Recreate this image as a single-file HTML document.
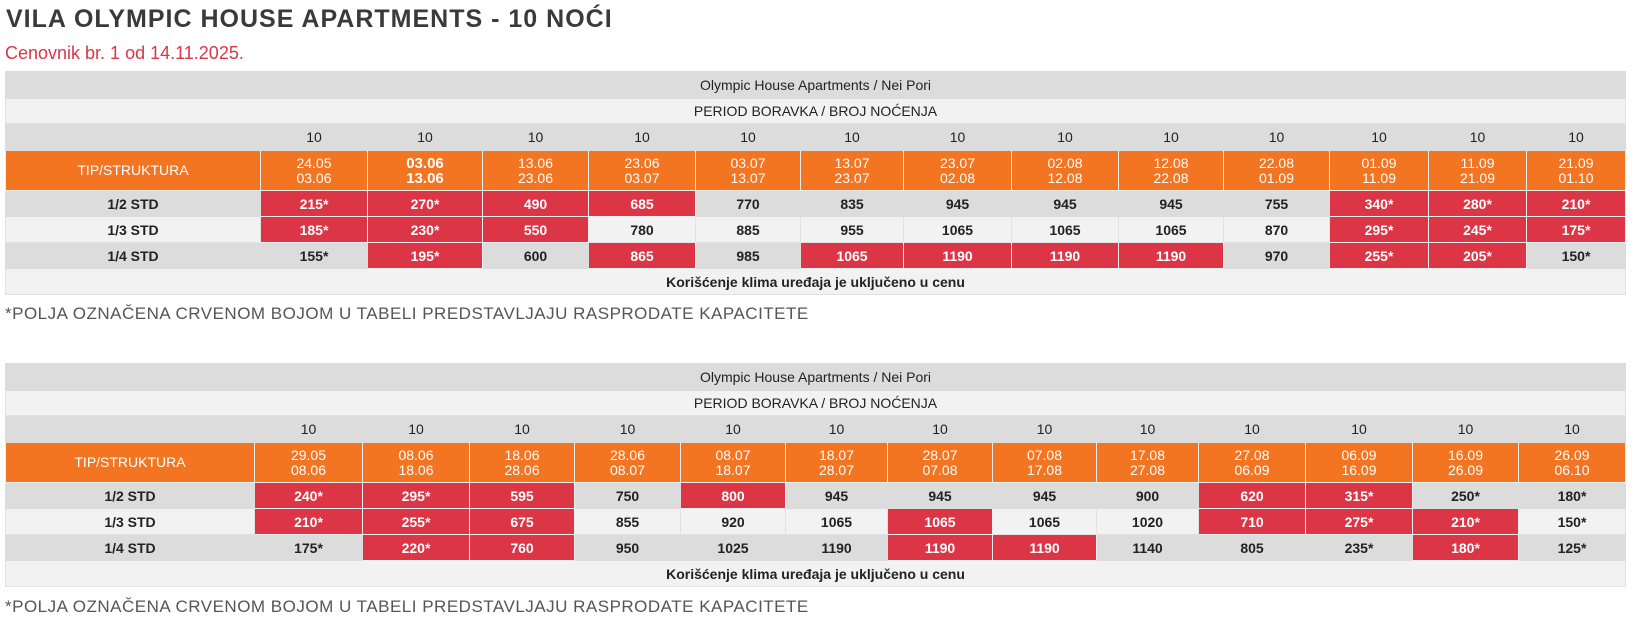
<!DOCTYPE html>
<html><head><meta charset="utf-8"><style>
*{margin:0;padding:0;box-sizing:border-box}
body{width:1645px;height:627px;background:#fff;font-family:"Liberation Sans",sans-serif;position:relative;overflow:hidden}
h1{position:absolute;left:6px;top:5px;font-size:25px;font-weight:bold;color:#3a3a3a;letter-spacing:1px}
.sub{position:absolute;left:5px;top:43px;font-size:18px;color:#dc3545}
.note{position:absolute;left:5px;font-size:17px;color:#555;letter-spacing:0.5px}
table{position:absolute;left:5px;width:1620px;border-collapse:collapse;table-layout:fixed;border:1px solid #d4d4d4;font-size:14px;color:#222;text-align:center}
td{border:1px solid #e2e2e2;padding:0;white-space:nowrap;overflow:hidden}
tr.h1 td{background:#dcdcdc;height:27px;font-size:14px;border-color:#dcdcdc}
tr.h2 td{background:#f2f2f2;height:25px;font-size:14px}
tr.h3 td{background:#dcdcdc;height:27px;font-size:14px;border-color:#dcdcdc}
tr.or td{background:#f37421;color:#fff;height:40px;line-height:15px;font-size:14px;border-color:#f0f0f0}
tr.g td{background:#dcdcdc;height:26px;font-weight:bold;border-color:#dcdcdc}
tr.l td{background:#f2f2f2;height:26px;font-weight:bold}
tr.f td{background:#f2f2f2;height:26px;font-weight:bold}
td.r{background:#dc3545 !important;color:#fff;border-color:#f0f0f0 !important}
</style></head><body>
<h1>VILA OLYMPIC HOUSE APARTMENTS - 10 NOĆI</h1>
<div class="sub">Cenovnik br. 1 od 14.11.2025.</div>

<table style="top:71px">
<colgroup><col style="width:255px"><col style="width:107px"><col style="width:115px"><col style="width:106px"><col style="width:107px"><col style="width:105px"><col style="width:103px"><col style="width:108px"><col style="width:107px"><col style="width:105px"><col style="width:106px"><col style="width:99px"><col style="width:98px"><col style="width:99px"></colgroup>
<tr class="h1"><td colspan="14">Olympic House Apartments / Nei Pori</td></tr>
<tr class="h2"><td colspan="14">PERIOD BORAVKA / BROJ NOĆENJA</td></tr>
<tr class="h3"><td></td><td>10</td><td>10</td><td>10</td><td>10</td><td>10</td><td>10</td><td>10</td><td>10</td><td>10</td><td>10</td><td>10</td><td>10</td><td>10</td></tr>
<tr class="or"><td>TIP/STRUKTURA</td><td>24.05<br>03.06</td><td style="font-weight:bold;font-size:15px">03.06<br>13.06</td><td>13.06<br>23.06</td><td>23.06<br>03.07</td><td>03.07<br>13.07</td><td>13.07<br>23.07</td><td>23.07<br>02.08</td><td>02.08<br>12.08</td><td>12.08<br>22.08</td><td>22.08<br>01.09</td><td>01.09<br>11.09</td><td>11.09<br>21.09</td><td>21.09<br>01.10</td></tr>
<tr class="g"><td>1/2 STD</td><td class="r">215*</td><td class="r">270*</td><td class="r">490</td><td class="r">685</td><td>770</td><td>835</td><td>945</td><td>945</td><td>945</td><td>755</td><td class="r">340*</td><td class="r">280*</td><td class="r">210*</td></tr>
<tr class="l"><td>1/3 STD</td><td class="r">185*</td><td class="r">230*</td><td class="r">550</td><td>780</td><td>885</td><td>955</td><td>1065</td><td>1065</td><td>1065</td><td>870</td><td class="r">295*</td><td class="r">245*</td><td class="r">175*</td></tr>
<tr class="g"><td>1/4 STD</td><td>155*</td><td class="r">195*</td><td>600</td><td class="r">865</td><td>985</td><td class="r">1065</td><td class="r">1190</td><td class="r">1190</td><td class="r">1190</td><td>970</td><td class="r">255*</td><td class="r">205*</td><td>150*</td></tr>
<tr class="f"><td colspan="14">Korišćenje klima uređaja je uključeno u cenu</td></tr>
</table>
<div class="note" style="top:304px">*POLJA OZNAČENA CRVENOM BOJOM U TABELI PREDSTAVLJAJU RASPRODATE KAPACITETE</div>

<table style="top:363px">
<colgroup><col style="width:249px"><col style="width:108px"><col style="width:107px"><col style="width:105px"><col style="width:106px"><col style="width:105px"><col style="width:102px"><col style="width:105px"><col style="width:104px"><col style="width:102px"><col style="width:107px"><col style="width:107px"><col style="width:106px"><col style="width:107px"></colgroup>
<tr class="h1"><td colspan="14">Olympic House Apartments / Nei Pori</td></tr>
<tr class="h2"><td colspan="14">PERIOD BORAVKA / BROJ NOĆENJA</td></tr>
<tr class="h3"><td></td><td>10</td><td>10</td><td>10</td><td>10</td><td>10</td><td>10</td><td>10</td><td>10</td><td>10</td><td>10</td><td>10</td><td>10</td><td>10</td></tr>
<tr class="or"><td>TIP/STRUKTURA</td><td>29.05<br>08.06</td><td>08.06<br>18.06</td><td>18.06<br>28.06</td><td>28.06<br>08.07</td><td>08.07<br>18.07</td><td>18.07<br>28.07</td><td>28.07<br>07.08</td><td>07.08<br>17.08</td><td>17.08<br>27.08</td><td>27.08<br>06.09</td><td>06.09<br>16.09</td><td>16.09<br>26.09</td><td>26.09<br>06.10</td></tr>
<tr class="g"><td>1/2 STD</td><td class="r">240*</td><td class="r">295*</td><td class="r">595</td><td>750</td><td class="r">800</td><td>945</td><td>945</td><td>945</td><td>900</td><td class="r">620</td><td class="r">315*</td><td>250*</td><td>180*</td></tr>
<tr class="l"><td>1/3 STD</td><td class="r">210*</td><td class="r">255*</td><td class="r">675</td><td>855</td><td>920</td><td>1065</td><td class="r">1065</td><td>1065</td><td>1020</td><td class="r">710</td><td class="r">275*</td><td class="r">210*</td><td>150*</td></tr>
<tr class="g"><td>1/4 STD</td><td>175*</td><td class="r">220*</td><td class="r">760</td><td>950</td><td>1025</td><td>1190</td><td class="r">1190</td><td class="r">1190</td><td>1140</td><td>805</td><td>235*</td><td class="r">180*</td><td>125*</td></tr>
<tr class="f"><td colspan="14">Korišćenje klima uređaja je uključeno u cenu</td></tr>
</table>
<div class="note" style="top:597px">*POLJA OZNAČENA CRVENOM BOJOM U TABELI PREDSTAVLJAJU RASPRODATE KAPACITETE</div>
</body></html>
